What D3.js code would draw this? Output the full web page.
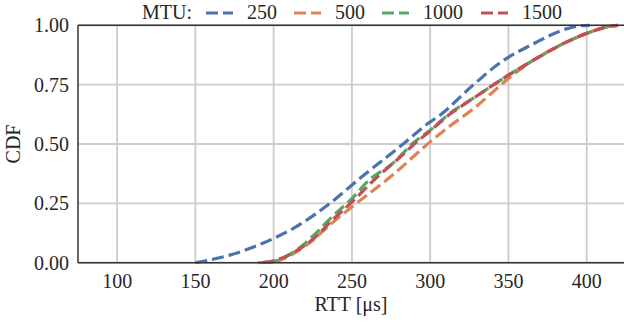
<!DOCTYPE html>
<html>
<head>
<meta charset="utf-8">
<script src="https://cdn.jsdelivr.net/npm/d3@7"></script>
<style>
  body { margin: 0; background: #fff; }
  svg text { font-family: "Liberation Serif", "Times New Roman", serif; fill: #262626; }
</style>
</head>
<body>
<svg id="chart"></svg>
<script>
'use strict'

var WIDTH = 624,
	HEIGHT = 322;

// legend / series names
var mtuLabels = ["250", "500", "1000", "1500"];
var colors = ["#4C72B0", "#DD8452", "#55A868", "#C44E52"];

// RTT [µs] and CDF value
var rtt250 = [150, 172, 193, 214.5, 236, 255, 280.5, 300, 306, 327.4, 345.5, 366, 387, 395, 402];
var cdf250 = [0, 0.032, 0.082, 0.152, 0.25, 0.355, 0.488, 0.593, 0.62, 0.748, 0.846, 0.922, 0.985, 0.997, 1.0];

var rtt500 = [190, 204, 214.5, 225, 236, 250, 276, 300, 312.5, 327, 342, 350, 366, 387, 402, 415, 420];
var cdf500 = [0, 0.011, 0.046, 0.095, 0.16, 0.235, 0.369, 0.509, 0.575, 0.645, 0.73, 0.776, 0.853, 0.929, 0.971, 0.996, 1.0];

var rtt1000 = [196, 200, 214.5, 227, 236, 250, 261, 276, 289, 300, 312.5, 327.4, 350, 366, 387, 402, 415, 420];
var cdf1000 = [0, 0.004, 0.053, 0.124, 0.185, 0.27, 0.348, 0.418, 0.503, 0.558, 0.629, 0.692, 0.79, 0.853, 0.929, 0.971, 0.996, 1.0];

var rtt1500 = [193, 200, 214.5, 227, 236, 250, 266, 280, 289, 300, 312.5, 327, 350, 366, 387, 402, 415, 420];
var cdf1500 = [0, 0.008, 0.05, 0.11, 0.17, 0.255, 0.36, 0.44, 0.495, 0.555, 0.625, 0.69, 0.79, 0.853, 0.929, 0.971, 0.996, 1.0];

var xTicks = [100, 150, 200, 250, 300, 350, 400];
var yTicks = [0, 0.25, 0.5, 0.75, 1.0];

var series = [
	{ rtt: rtt250, cdf: cdf250 },
	{ rtt: rtt500, cdf: cdf500 },
	{ rtt: rtt1000, cdf: cdf1000 },
	{ rtt: rtt1500, cdf: cdf1500 }
];

var svg = d3.select("#chart")
	.attr("width", WIDTH)
	.attr("height", HEIGHT);

var plotLeft = 78, plotTop = 25.3, plotBottom = 262.7;

var x = d3.scaleLinear().domain([75, 425]).range([plotLeft, 625.8]);
var y = d3.scaleLinear().domain([0, 1]).range([plotBottom, plotTop]);

// grid
svg.append("g")
	.selectAll("line")
	.data(xTicks)
	.join("line")
	.attr("x1", d => x(d)).attr("x2", d => x(d))
	.attr("y1", plotTop).attr("y2", plotBottom)
	.style("stroke", "#cccccc")
	.style("stroke-width", 1.8);

svg.append("g")
	.selectAll("line")
	.data(yTicks)
	.join("line")
	.attr("x1", plotLeft).attr("x2", WIDTH)
	.attr("y1", d => y(d)).attr("y2", d => y(d))
	.style("stroke", "#cccccc")
	.style("stroke-width", 1.8);

// curves
var line = d3.line()
	.x(d => x(d[0]))
	.y(d => y(d[1]))
	.curve(d3.curveMonotoneX);

series.forEach(function (s, i) {
	var pts = s.rtt.map((r, j) => [r, s.cdf[j]]);
	svg.append("path")
		.datum(pts)
		.attr("d", line)
		.style("fill", "none")
		.style("stroke", colors[i])
		.style("stroke-width", 3.2)
		.style("stroke-dasharray", "12,5");
});

// spines
var spine = "#333333";
svg.append("line").attr("x1", plotLeft).attr("x2", plotLeft).attr("y1", plotTop).attr("y2", plotBottom)
	.style("stroke", spine).style("stroke-width", 1.5);
svg.append("line").attr("x1", plotLeft).attr("x2", WIDTH).attr("y1", plotBottom).attr("y2", plotBottom)
	.style("stroke", spine).style("stroke-width", 1.5);
svg.append("line").attr("x1", plotLeft).attr("x2", WIDTH).attr("y1", plotTop).attr("y2", plotTop)
	.style("stroke", spine).style("stroke-width", 1.5);

// tick labels
svg.append("g")
	.selectAll("text")
	.data(xTicks)
	.join("text")
	.attr("x", d => x(d))
	.attr("y", 288)
	.style("text-anchor", "middle")
	.style("font-size", "20px")
	.text(d => d);

svg.append("g")
	.selectAll("text")
	.data(yTicks)
	.join("text")
	.attr("x", 69)
	.attr("y", d => y(d) + 7)
	.style("text-anchor", "end")
	.style("font-size", "20px")
	.text(d => d3.format(".2f")(d));

// axis titles
svg.append("text")
	.attr("x", 351)
	.attr("y", 311)
	.style("text-anchor", "middle")
	.style("font-size", "20px")
	.text("RTT [μs]");

svg.append("text")
	.attr("transform", "translate(20,144) rotate(-90)")
	.style("text-anchor", "middle")
	.style("font-size", "20px")
	.text("CDF");

// legend
var legend = svg.append("g");
legend.append("text")
	.attr("x", 142)
	.attr("y", 19)
	.style("font-size", "20px")
	.text("MTU:");

var handleX = [206, 294, 382, 481];
mtuLabels.forEach(function (lab, i) {
	legend.append("line")
		.attr("x1", handleX[i]).attr("x2", handleX[i] + 27)
		.attr("y1", 13).attr("y2", 13)
		.style("stroke", colors[i])
		.style("stroke-width", 3.2)
		.style("stroke-dasharray", "12,5");
	legend.append("text")
		.attr("x", handleX[i] + 41)
		.attr("y", 19)
		.style("font-size", "20px")
		.text(lab);
});
</script>
</body>
</html>
